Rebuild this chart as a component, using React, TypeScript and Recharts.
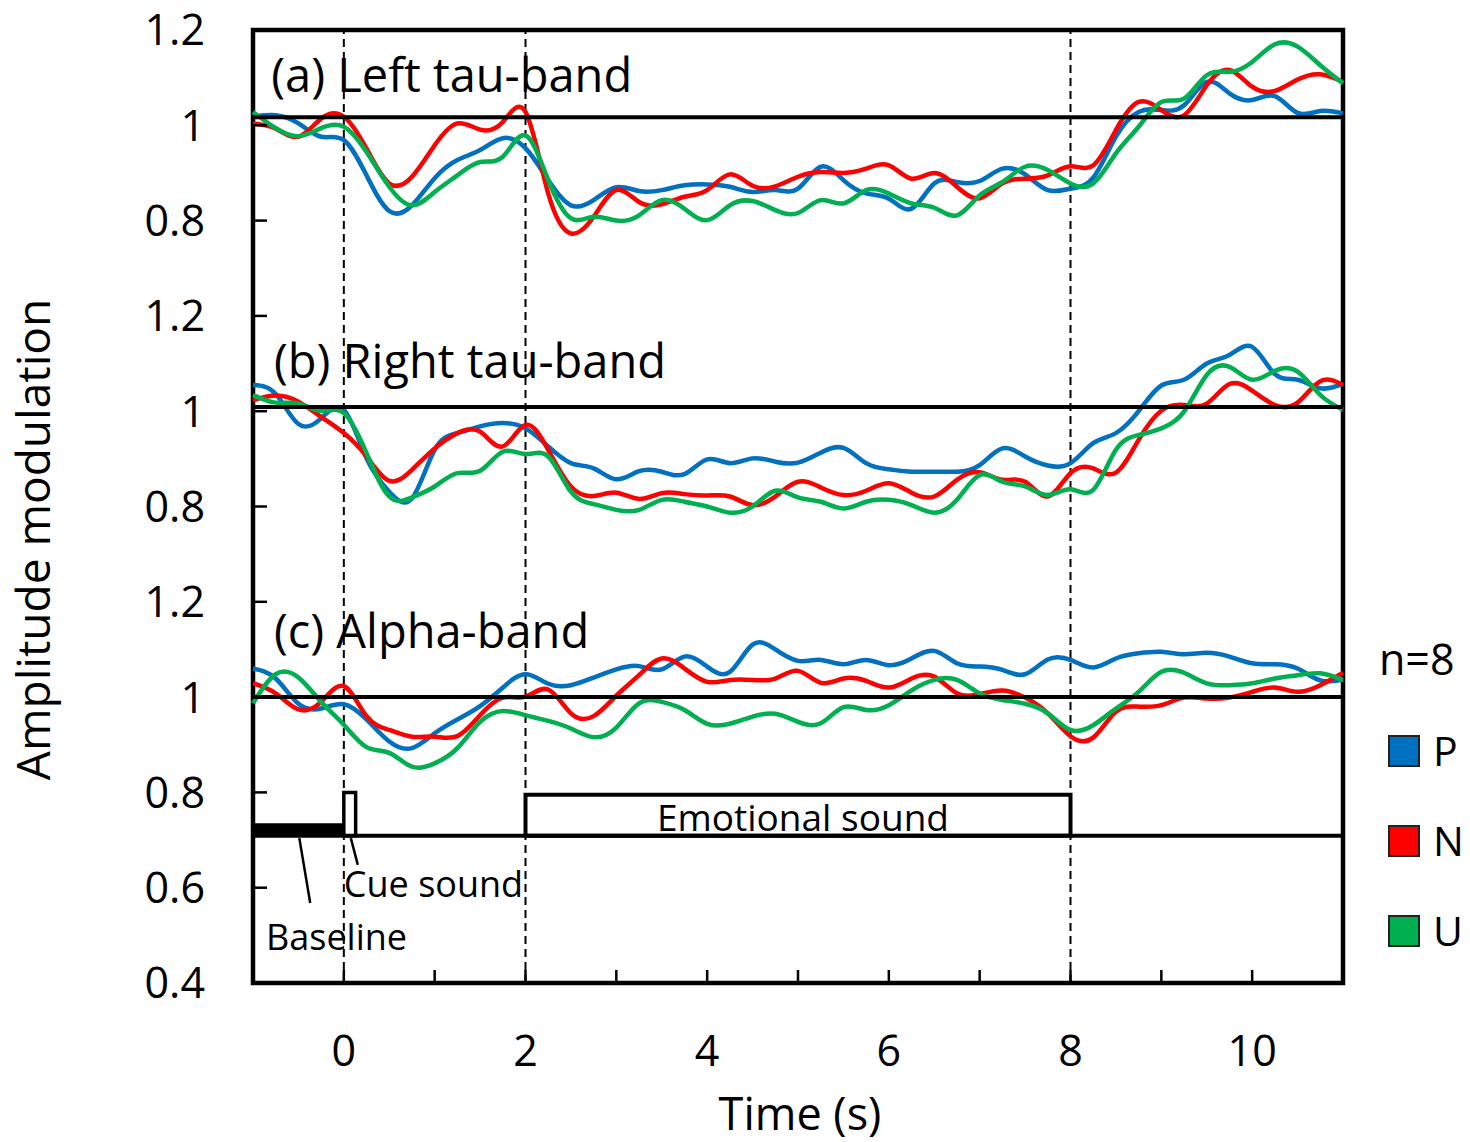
import { LineChart, Line, XAxis, YAxis, ReferenceLine, ReferenceArea, ReferenceDot } from "recharts"

const FONT = "'Open Sans', sans-serif"

const TIME = [
    -1, -0.75, -0.5, -0.25, 0, 0.25, 0.5, 0.75, 1, 1.25, 1.5, 1.75, 2, 2.25, 2.5, 2.75, 3,
    3.25, 3.5, 3.75, 4, 4.25, 4.5, 4.75, 5, 5.25, 5.5, 5.75, 6, 6.25, 6.5, 6.75, 7,
    7.25, 7.5, 7.75, 8, 8.25, 8.5, 8.75, 9, 9.25, 9.5, 9.75, 10, 10.25, 10.5, 10.75, 11,
]

// (a) Left tau-band
const LEFT_TAU_P = [
    1.018, 1.021, 1.004, 0.976, 0.969, 0.895, 0.820, 0.832, 0.889, 0.927, 0.948, 0.973, 0.952, 0.885, 0.832, 0.843, 0.870,
    0.862, 0.864, 0.874, 0.876, 0.871, 0.860, 0.864, 0.867, 0.913, 0.885, 0.857, 0.846, 0.825, 0.878, 0.881, 0.883,
    0.909, 0.897, 0.864, 0.867, 0.890, 0.976, 1.028, 1.032, 1.042, 1.091, 1.067, 1.053, 1.061, 1.026, 1.030, 1.025,
]
const LEFT_TAU_N = [
    1.004, 0.993, 0.976, 1.014, 1.018, 0.951, 0.878, 0.892, 0.958, 1.004, 0.991, 1.007, 1.028, 0.857, 0.773, 0.808, 0.864,
    0.839, 0.834, 0.850, 0.864, 0.897, 0.873, 0.872, 0.892, 0.902, 0.900, 0.909, 0.916, 0.888, 0.900, 0.871, 0.847,
    0.878, 0.888, 0.895, 0.914, 0.916, 0.990, 1.049, 1.032, 1.021, 1.084, 1.116, 1.081, 1.072, 1.096, 1.107, 1.091,
]
const LEFT_TAU_U = [
    1.028, 0.994, 0.977, 0.994, 0.997, 0.944, 0.871, 0.832, 0.860, 0.895, 0.923, 0.934, 0.979, 0.885, 0.805, 0.808, 0.800,
    0.811, 0.843, 0.825, 0.801, 0.832, 0.841, 0.822, 0.816, 0.843, 0.836, 0.864, 0.857, 0.836, 0.827, 0.811, 0.853,
    0.881, 0.913, 0.906, 0.878, 0.878, 0.941, 0.997, 1.049, 1.056, 1.105, 1.112, 1.133, 1.170, 1.165, 1.126, 1.088,
]

// (b) Right tau-band
const RIGHT_TAU_P = [
    1.055, 1.036, 0.973, 0.985, 1.003, 0.901, 0.831, 0.817, 0.919, 0.954, 0.968, 0.975, 0.964, 0.926, 0.891, 0.880, 0.857,
    0.874, 0.873, 0.868, 0.899, 0.891, 0.901, 0.894, 0.892, 0.913, 0.923, 0.891, 0.878, 0.873, 0.873, 0.873, 0.887,
    0.922, 0.905, 0.886, 0.891, 0.933, 0.954, 1.000, 1.054, 1.066, 1.100, 1.118, 1.135, 1.078, 1.066, 1.048, 1.058,
]
const RIGHT_TAU_N = [
    1.023, 1.033, 1.020, 0.988, 0.954, 0.905, 0.854, 0.877, 0.922, 0.954, 0.957, 0.926, 0.971, 0.919, 0.842, 0.822, 0.829,
    0.816, 0.828, 0.826, 0.823, 0.821, 0.803, 0.821, 0.852, 0.840, 0.824, 0.833, 0.849, 0.829, 0.821, 0.856, 0.872,
    0.856, 0.852, 0.821, 0.870, 0.880, 0.871, 0.940, 1.001, 1.013, 1.016, 1.057, 1.043, 1.013, 1.018, 1.063, 1.055,
]
const RIGHT_TAU_U = [
    1.034, 1.018, 1.016, 1.001, 0.996, 0.912, 0.821, 0.819, 0.842, 0.870, 0.875, 0.915, 0.910, 0.905, 0.831, 0.805, 0.793,
    0.793, 0.814, 0.810, 0.800, 0.787, 0.800, 0.833, 0.819, 0.810, 0.796, 0.810, 0.814, 0.803, 0.787, 0.814, 0.866,
    0.852, 0.842, 0.824, 0.836, 0.835, 0.919, 0.950, 0.964, 0.999, 1.076, 1.093, 1.066, 1.085, 1.083, 1.034, 1.003,
]

// (c) Alpha-band
const ALPHA_P = [
    1.060, 1.039, 0.986, 0.976, 0.985, 0.953, 0.907, 0.893, 0.924, 0.953, 0.981, 1.020, 1.048, 1.028, 1.025, 1.041, 1.058,
    1.065, 1.058, 1.085, 1.064, 1.053, 1.110, 1.100, 1.076, 1.078, 1.069, 1.078, 1.067, 1.081, 1.097, 1.071, 1.064,
    1.057, 1.048, 1.079, 1.078, 1.062, 1.081, 1.092, 1.095, 1.090, 1.093, 1.085, 1.071, 1.069, 1.060, 1.035, 1.037,
]
const ALPHA_N = [
    1.029, 1.008, 0.974, 0.990, 1.023, 0.960, 0.931, 0.917, 0.917, 0.918, 0.962, 0.999, 1.001, 1.016, 0.966, 0.960, 1.003,
    1.046, 1.081, 1.060, 1.032, 1.036, 1.036, 1.039, 1.055, 1.030, 1.039, 1.034, 1.020, 1.039, 1.043, 1.008, 1.006,
    1.014, 0.999, 0.966, 0.918, 0.915, 0.969, 0.980, 0.983, 0.999, 0.997, 0.999, 1.011, 1.020, 1.011, 1.025, 1.051,
]
const ALPHA_U = [
    0.987, 1.048, 1.041, 0.990, 0.942, 0.895, 0.883, 0.854, 0.861, 0.893, 0.948, 0.971, 0.962, 0.950, 0.934, 0.916, 0.936,
    0.987, 0.990, 0.973, 0.944, 0.944, 0.959, 0.965, 0.948, 0.945, 0.979, 0.973, 0.983, 1.014, 1.036, 1.036, 1.008,
    0.994, 0.986, 0.966, 0.931, 0.941, 0.976, 1.011, 1.053, 1.051, 1.029, 1.025, 1.029, 1.039, 1.046, 1.050, 1.036,
]

// the three panels share one value axis, stacked 0.6 apart
const Y_TICKS = [0.4, 0.6, 0.8, 1.0, 1.2, 1.4, 1.6, 1.8, 2.0, 2.2, 2.4]
const Y_TICK_LABELS = ["0.4", "0.6", "0.8", "1", "1.2", "0.8", "1", "1.2", "0.8", "1", "1.2"]
const X_TICKS = [0, 1, 2, 3, 4, 5, 6, 7, 8, 9, 10]
const EVENT_TIMES = [0, 2, 8]

const CONDITIONS = [
    { key: "P", color: "#0070C0" },
    { key: "N", color: "#FF0000" },
    { key: "U", color: "#00B050" },
]

const PANELS = [
    { id: "a", offset: 1.2, unity: 2.217, series: { P: LEFT_TAU_P, N: LEFT_TAU_N, U: LEFT_TAU_U } },
    { id: "b", offset: 0.6, unity: 1.609, series: { P: RIGHT_TAU_P, N: RIGHT_TAU_N, U: RIGHT_TAU_U } },
    { id: "c", offset: 0, unity: 1.0, series: { P: ALPHA_P, N: ALPHA_N, U: ALPHA_U } },
]

const chartData = TIME.map((t, i) => {
    const row: Record<string, number> = { t }
    PANELS.forEach((p) => {
        CONDITIONS.forEach((c) => {
            row[p.id + c.key] = p.series[c.key as "P" | "N" | "U"][i] + p.offset
        })
    })
    return row
})

const YTick = ({ x, y, payload }: any) => {
    const idx = Y_TICKS.findIndex((v) => Math.abs(v - payload.value) < 1e-6)
    return (
        <g>
            <line x1={x} x2={x + 14} y1={y} y2={y} stroke="#000" strokeWidth={2.5} />
            <text x={x - 48} y={y} dy="0.36em" textAnchor="end" fontSize={43} fontFamily={FONT} fill="#000">
                {Y_TICK_LABELS[idx]}
            </text>
        </g>
    )
}

const XTick = ({ x, y, payload }: any) => (
    <g>
        <line x1={x} x2={x} y1={y} y2={y - 13} stroke="#000" strokeWidth={2.5} />
        {payload.value % 2 === 0 && (
            <text x={x} y={y + 83} textAnchor="middle" fontSize={43} fontFamily={FONT} fill="#000">
                {payload.value}
            </text>
        )}
    </g>
)

// text anchored at a reference point (left end of its baseline)
const textAt = (value: string, size: number) => ({ viewBox }: any) => (
    <text x={viewBox.x} y={viewBox.y} fontSize={size} fontFamily={FONT} fill="#000">
        {value}
    </text>
)

export default function App() {
    return (
        <div style={{ position: "absolute", left: 0, top: 0, width: 1470, height: 1142, background: "#fff" }}>
            <LineChart width={1470} height={1142} data={chartData} margin={{ top: 30, right: 127, bottom: 0, left: 0 }}>
                <XAxis
                    dataKey="t"
                    type="number"
                    domain={[-1, 11]}
                    ticks={X_TICKS}
                    interval={0}
                    axisLine={false}
                    tickLine={false}
                    tickSize={0}
                    tickMargin={0}
                    height={159}
                    tick={<XTick />}
                    label={{
                        content: ({ viewBox }: any) => (
                            <text x={viewBox.x + viewBox.width / 2 + 2} y={viewBox.y + 147} textAnchor="middle" fontSize={45} fontFamily={FONT} fill="#000">
                                Time (s)
                            </text>
                        ),
                    }}
                />
                <YAxis
                    type="number"
                    domain={[0.4, 2.4]}
                    ticks={Y_TICKS}
                    interval={0}
                    allowDataOverflow
                    axisLine={false}
                    tickLine={false}
                    tickSize={0}
                    tickMargin={0}
                    width={253}
                    tick={<YTick />}
                    label={{
                        content: ({ viewBox }: any) => (
                            <text
                                transform={`translate(${viewBox.x + 50}, ${viewBox.y + viewBox.height / 2 + 33}) rotate(-90)`}
                                textAnchor="middle"
                                fontSize={46}
                                fontFamily={FONT}
                                fill="#000"
                            >
                                Amplitude modulation
                            </text>
                        ),
                    }}
                />

                {/* stimulus timeline */}
                <ReferenceArea x1={-1} x2={0} y1={0.709} y2={0.735} fill="#000" fillOpacity={1} stroke="none" />
                <ReferenceArea x1={0} x2={0.13} y1={0.709} y2={0.8} fill="none" stroke="#000" strokeWidth={3.5} />
                <ReferenceArea
                    x1={2}
                    x2={8}
                    y1={0.709}
                    y2={0.795}
                    fill="none"
                    stroke="#000"
                    strokeWidth={4}
                    label={{
                        content: ({ viewBox }: any) => (
                            <text x={viewBox.x + viewBox.width / 2 + 5} y={viewBox.y + viewBox.height - 5} textAnchor="middle" fontSize={37} fontFamily={FONT} fill="#000">
                                Emotional sound
                            </text>
                        ),
                    }}
                />
                <ReferenceLine y={0.709} stroke="#000" strokeWidth={4} />
                <ReferenceLine segment={[{ x: -0.49, y: 0.704 }, { x: -0.37, y: 0.568 }]} stroke="#000" strokeWidth={2.5} />
                <ReferenceLine segment={[{ x: 0.077, y: 0.704 }, { x: 0.154, y: 0.648 }]} stroke="#000" strokeWidth={2.5} />
                <ReferenceDot x={0} y={0.58} r={0} fill="none" stroke="none" label={{ content: textAt("Cue sound", 36) }} />
                <ReferenceDot x={-0.857} y={0.469} r={0} fill="none" stroke="none" label={{ content: textAt("Baseline", 36) }} />

                {/* panel titles */}
                <ReferenceDot x={-0.8} y={2.27} r={0} fill="none" stroke="none" label={{ content: textAt("(a) Left tau-band", 47) }} />
                <ReferenceDot x={-0.77} y={1.67} r={0} fill="none" stroke="none" label={{ content: textAt("(b) Right tau-band", 47) }} />
                <ReferenceDot x={-0.77} y={1.103} r={0} fill="none" stroke="none" label={{ content: textAt("(c) Alpha-band", 47) }} />

                {EVENT_TIMES.map((t) => (
                    <ReferenceLine key={t} x={t} stroke="#000" strokeWidth={2} strokeDasharray="8 5" />
                ))}

                {PANELS.flatMap((p) =>
                    CONDITIONS.map((c) => (
                        <Line
                            key={p.id + c.key}
                            dataKey={p.id + c.key}
                            type="natural"
                            stroke={c.color}
                            strokeWidth={4.5}
                            strokeLinejoin="round"
                            dot={false}
                            activeDot={false}
                            isAnimationActive={false}
                        />
                    ))
                )}

                {PANELS.map((p) => (
                    <ReferenceLine key={p.id} y={p.unity} stroke="#000" strokeWidth={4} />
                ))}

                {/* plot frame */}
                <ReferenceArea x1={-1} x2={11} y1={0.4} y2={2.4} fill="none" stroke="#000" strokeWidth={4.5} />
            </LineChart>

            <svg width={1470} height={1142} style={{ position: "absolute", left: 0, top: 0, pointerEvents: "none" }}>
                <text x={1379} y={675} fontSize={43} fontFamily={FONT} fill="#000">
                    n=8
                </text>
                {CONDITIONS.map((c, i) => (
                    <g key={c.key}>
                        <rect x={1389} y={736 + i * 90} width={30} height={30} fill={c.color} stroke="#222" strokeWidth={2} />
                        <text x={1433} y={766 + i * 90} fontSize={41} fontFamily={FONT} fill="#000">
                            {c.key}
                        </text>
                    </g>
                ))}
            </svg>
        </div>
    )
}
